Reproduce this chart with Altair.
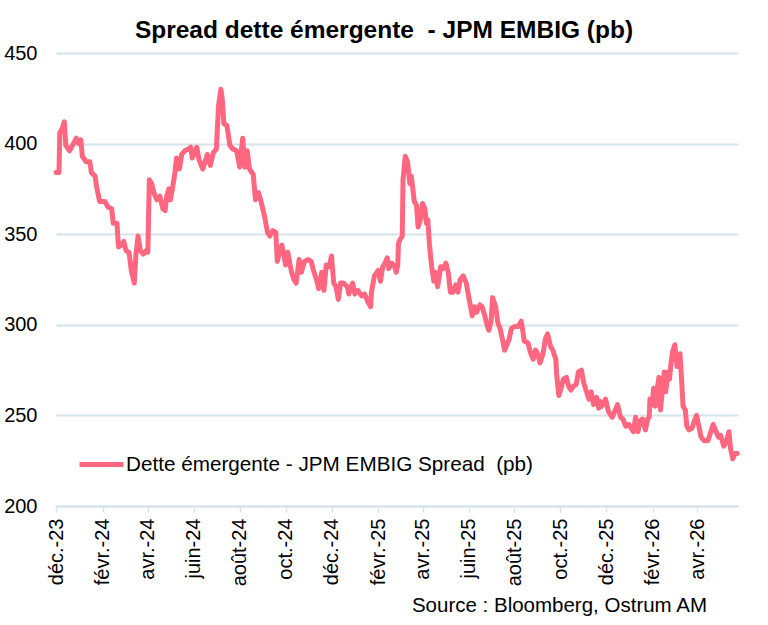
import altair as alt
import pandas as pd

TITLE = "Spread dette émergente \u00a0- JPM EMBIG (pb)"
SERIES = "Dette émergente - JPM EMBIG Spread \u00a0(pb)"
SOURCE = "Source : Bloomberg, Ostrum AM"
MONTHS_FR = ["janv.", "févr.", "mars", "avr.", "mai", "juin",
             "juil.", "août", "sept.", "oct.", "nov.", "déc."]
Y_TICKS = [200, 250, 300, 350, 400, 450]
X_TICK_MONTHS = [(2023, 12), (2024, 2), (2024, 4), (2024, 6), (2024, 8), (2024, 10),
                 (2024, 12), (2025, 2), (2025, 4), (2025, 6), (2025, 8), (2025, 10),
                 (2025, 12), (2026, 2), (2026, 4)]
X_START = (2023, 12, 1)
X_END = (2026, 5, 25)

dates = [
    "2023-12-01", "2023-12-05", "2023-12-06", "2023-12-09", "2023-12-12", "2023-12-14",
    "2023-12-19", "2023-12-23", "2023-12-28", "2023-12-31", "2024-01-03", "2024-01-05",
    "2024-01-10", "2024-01-15", "2024-01-17", "2024-01-22", "2024-01-24", "2024-01-28",
    "2024-02-04", "2024-02-08", "2024-02-13", "2024-02-15", "2024-02-20", "2024-02-22",
    "2024-02-26", "2024-02-29", "2024-03-03", "2024-03-07", "2024-03-10", "2024-03-14",
    "2024-03-16", "2024-03-19", "2024-03-22", "2024-03-26", "2024-03-30", "2024-04-01",
    "2024-04-03", "2024-04-06", "2024-04-09", "2024-04-13", "2024-04-17", "2024-04-21",
    "2024-04-24", "2024-04-26", "2024-04-29", "2024-05-01", "2024-05-04", "2024-05-07",
    "2024-05-09", "2024-05-13", "2024-05-16", "2024-05-20", "2024-05-25", "2024-05-28",
    "2024-05-30", "2024-06-05", "2024-06-08", "2024-06-13", "2024-06-19", "2024-06-23",
    "2024-06-27", "2024-07-01", "2024-07-04", "2024-07-07", "2024-07-09", "2024-07-11",
    "2024-07-15", "2024-07-19", "2024-07-23", "2024-07-28", "2024-08-01", "2024-08-05",
    "2024-08-08", "2024-08-11", "2024-08-14", "2024-08-19", "2024-08-22", "2024-08-26",
    "2024-08-30", "2024-09-03", "2024-09-07", "2024-09-10", "2024-09-14", "2024-09-18",
    "2024-09-20", "2024-09-23", "2024-09-26", "2024-09-29", "2024-10-01", "2024-10-04",
    "2024-10-07", "2024-10-09", "2024-10-12", "2024-10-15", "2024-10-19", "2024-10-22",
    "2024-10-26", "2024-10-31", "2024-11-04", "2024-11-07", "2024-11-11", "2024-11-14",
    "2024-11-18", "2024-11-21", "2024-11-24", "2024-11-28", "2024-12-01", "2024-12-04",
    "2024-12-07", "2024-12-10", "2024-12-13", "2024-12-17", "2024-12-22", "2024-12-24",
    "2024-12-29", "2025-01-01", "2025-01-05", "2025-01-10", "2025-01-14", "2025-01-18",
    "2025-01-22", "2025-01-23", "2025-01-27", "2025-02-01", "2025-02-04", "2025-02-07",
    "2025-02-10", "2025-02-13", "2025-02-15", "2025-02-19", "2025-02-23", "2025-02-25",
    "2025-02-27", "2025-02-28", "2025-03-02", "2025-03-05", "2025-03-06", "2025-03-09",
    "2025-03-12", "2025-03-15", "2025-03-17", "2025-03-19", "2025-03-21", "2025-03-24",
    "2025-03-26", "2025-03-29", "2025-04-01", "2025-04-04", "2025-04-06", "2025-04-08",
    "2025-04-10", "2025-04-13", "2025-04-16", "2025-04-18", "2025-04-21", "2025-04-25",
    "2025-04-28", "2025-05-02", "2025-05-05", "2025-05-08", "2025-05-11", "2025-05-15",
    "2025-05-18", "2025-05-21", "2025-05-25", "2025-05-29", "2025-06-01", "2025-06-06",
    "2025-06-09", "2025-06-12", "2025-06-16", "2025-06-19", "2025-06-22", "2025-06-25",
    "2025-06-28", "2025-07-01", "2025-07-03", "2025-07-07", "2025-07-10", "2025-07-13",
    "2025-07-16", "2025-07-19", "2025-07-22", "2025-07-25", "2025-07-28", "2025-08-01",
    "2025-08-06", "2025-08-10", "2025-08-12", "2025-08-14", "2025-08-19", "2025-08-22",
    "2025-08-26", "2025-08-29", "2025-09-01", "2025-09-04", "2025-09-08", "2025-09-11",
    "2025-09-14", "2025-09-18", "2025-09-21", "2025-09-25", "2025-09-26", "2025-09-29",
    "2025-10-02", "2025-10-05", "2025-10-09", "2025-10-12", "2025-10-15", "2025-10-18",
    "2025-10-22", "2025-10-25", "2025-10-29", "2025-11-01", "2025-11-04", "2025-11-08",
    "2025-11-11", "2025-11-14", "2025-11-18", "2025-11-21", "2025-11-22", "2025-11-25",
    "2025-11-30", "2025-12-04", "2025-12-09", "2025-12-13", "2025-12-16", "2025-12-20",
    "2025-12-23", "2025-12-27", "2025-12-31", "2026-01-03", "2026-01-06", "2026-01-09",
    "2026-01-12", "2026-01-15", "2026-01-18", "2026-01-22", "2026-01-25", "2026-01-27",
    "2026-01-28", "2026-01-31", "2026-02-02", "2026-02-04", "2026-02-06", "2026-02-09",
    "2026-02-11", "2026-02-14", "2026-02-16", "2026-02-18", "2026-02-21", "2026-02-23",
    "2026-02-25", "2026-02-27", "2026-03-02", "2026-03-05", "2026-03-07", "2026-03-09",
    "2026-03-11", "2026-03-13", "2026-03-16", "2026-03-18", "2026-03-21", "2026-03-25",
    "2026-03-28", "2026-03-31", "2026-04-03", "2026-04-06", "2026-04-10", "2026-04-15",
    "2026-04-19", "2026-04-22", "2026-04-26", "2026-04-29", "2026-05-02", "2026-05-06",
    "2026-05-09", "2026-05-13", "2026-05-15", "2026-05-18", "2026-05-21", "2026-05-24",
]

values = [
    384, 384, 406, 408, 412, 399,
    396, 399, 403, 400, 402, 393,
    390, 390, 384, 382, 376, 368,
    368, 365, 364, 356, 356, 343,
    344, 346, 341, 340, 330, 323,
    338, 349, 341, 339, 341, 340,
    380, 378, 373, 369, 371, 364,
    363, 371, 375, 369, 376, 384,
    392, 386, 394, 396, 397, 398,
    392, 398, 391, 386, 394, 388,
    395, 397, 421, 430, 424, 411,
    410, 399, 397, 396, 387, 403,
    387, 396, 386, 383, 369, 373,
    367, 360, 351, 349, 352, 351,
    335, 340, 344, 338, 333, 340,
    333, 329, 325, 323, 336, 329,
    335, 336, 335, 330, 325, 320,
    329, 319, 333, 332, 338, 323,
    321, 314, 323, 323, 321, 317,
    323, 317, 319, 316, 317, 313,
    310, 318, 327, 330, 324, 332,
    334, 337, 331, 334, 332, 329,
    333, 345, 347, 349, 380, 393,
    390, 378, 382, 375, 368, 366,
    354, 358, 367, 364, 356, 358,
    345, 332, 324, 329, 321, 332,
    331, 334, 329, 318, 318, 322,
    318, 325, 327, 323, 316, 305,
    310, 307, 311, 310, 306, 301,
    297, 302, 315, 310, 301, 298,
    292, 286, 289, 292, 298, 299,
    299, 302, 297, 291, 290, 285,
    281, 286, 284, 279, 284, 292,
    295, 288, 286, 281, 273, 261,
    265, 270, 271, 266, 264, 266,
    267, 274, 275, 268, 264, 259,
    263, 256, 260, 254, 258, 255,
    259, 252, 249, 253, 256, 249,
    248, 244, 245, 243, 241, 249,
    241, 247, 248, 242, 248, 249,
    259, 256, 265, 255, 263, 271,
    253, 266, 274, 263, 274, 270,
    279, 285, 289, 277, 280, 284,
    270, 255, 253, 244, 242, 243,
    247, 250, 244, 238, 236, 236,
    241, 245, 241, 238, 239, 233,
    235, 241, 232, 226, 229, 229,
]

LINE_COLOR = "#FF6680"
GRID_COLOR = "#D5E3EA"
FONT = "Liberation Sans"

df = pd.DataFrame({"date": pd.to_datetime(dates), "spread": values, "serie": SERIES})
src_df = pd.DataFrame({"t": [SOURCE]})
title_df = pd.DataFrame({"t": [TITLE]})

month_array = "[" + ",".join("'" + m + "'" for m in MONTHS_FR) + "]"
label_expr = month_array + "[month(datum.value)] + '-' + timeFormat(datum.value, '%y')"

x_domain = [alt.DateTime(year=X_START[0], month=X_START[1], date=X_START[2]),
            alt.DateTime(year=X_END[0], month=X_END[1], date=X_END[2])]
x_values = [alt.DateTime(year=y, month=m, date=1) for (y, m) in X_TICK_MONTHS]

line = alt.Chart(df).mark_line(
    strokeWidth=5, strokeJoin="round", strokeCap="round"
).encode(
    x=alt.X(
        "date:T",
        scale=alt.Scale(domain=x_domain),
        axis=alt.Axis(
            values=x_values, labelExpr=label_expr, labelAngle=270,
            labelAlign="right", labelBaseline="middle", labelFontSize=20,
            labelPadding=6, labelColor="black", labelFont=FONT,
            tickSize=6, tickColor=GRID_COLOR, tickWidth=1.5,
            domainColor=GRID_COLOR, domainWidth=2, grid=False, title=None,
            labelOverlap=False,
        ),
    ),
    y=alt.Y(
        "spread:Q",
        scale=alt.Scale(domain=[200, 450], nice=False, zero=False),
        axis=alt.Axis(
            values=Y_TICKS, domain=False, ticks=False, grid=True,
            gridColor=GRID_COLOR, gridWidth=2, labelFontSize=20,
            labelPadding=19, labelColor="black", labelFont=FONT, title=None,
        ),
    ),
    color=alt.Color(
        "serie:N",
        scale=alt.Scale(range=[LINE_COLOR]),
        legend=alt.Legend(
            title=None, orient="none", legendX=21, legendY=387,
            symbolType="stroke", symbolStrokeWidth=5, symbolSize=1936,
            labelFontSize=20.7, labelFont=FONT, labelColor="black",
            labelOffset=0, padding=0, labelLimit=600,
        ),
    ),
)

src = alt.Chart(src_df).mark_text(
    align="right", baseline="alphabetic", fontSize=20.5, font=FONT, color="black"
).encode(
    text="t:N",
    x=alt.value(651),
    y=alt.value(559),
)

title = alt.Chart(title_df).mark_text(
    align="center", baseline="alphabetic", fontSize=24.5, fontWeight="bold",
    font=FONT, color="black"
).encode(
    text="t:N",
    x=alt.value(328),
    y=alt.value(-15.5),
)

chart = alt.layer(line, src, title).properties(
    width=682,
    height=453,
    padding={"left": 56, "top": 53, "right": 30, "bottom": 119},
    autosize=alt.AutoSizeParams(type="none"),
    view=alt.ViewBackground(stroke=None),
).configure_view(
    stroke=None
).configure_axisY(
    domain=False, ticks=False
).configure_axisX(
    grid=False
).configure(font=FONT, background="white")

chart.save("out.html", embed_options={"renderer": "svg", "actions": False})
